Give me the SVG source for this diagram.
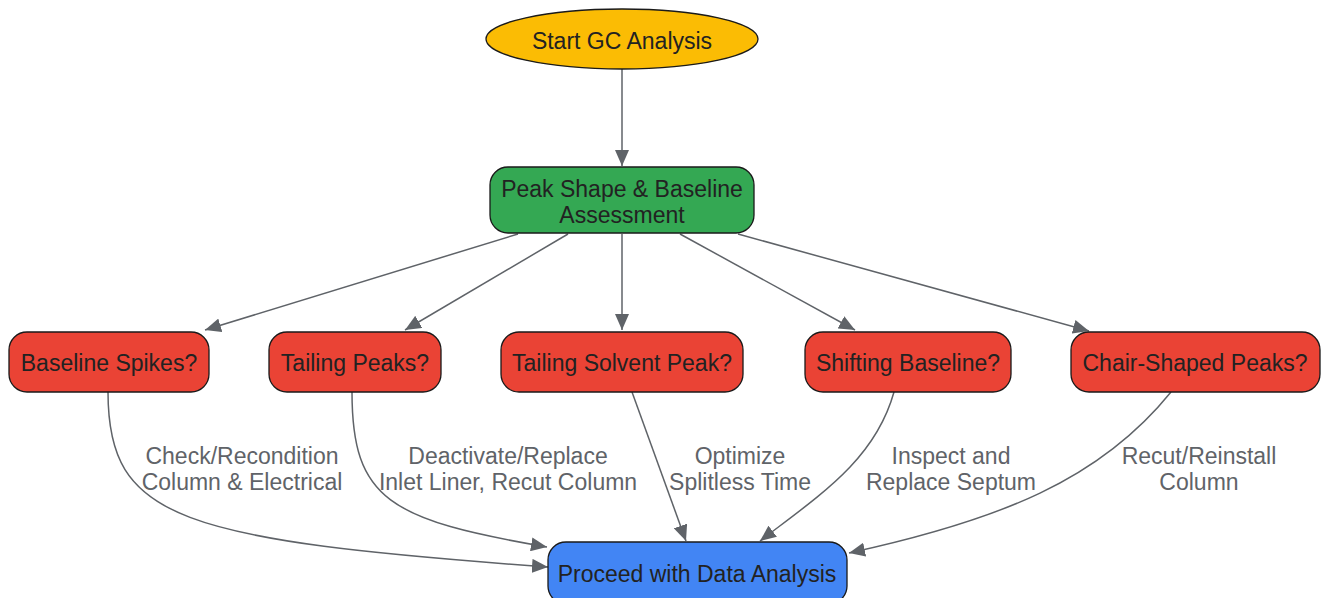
<svg xmlns="http://www.w3.org/2000/svg" width="1325" height="598" viewBox="0 0 1325 598">
<style>
.node{stroke:#1a1a1a;stroke-width:1.3}
.t{font-family:"Liberation Sans",Arial,sans-serif;font-size:23px;fill:#222;text-anchor:middle;dominant-baseline:central}
.lbl{font-family:"Liberation Sans",Arial,sans-serif;font-size:23px;fill:#606368;text-anchor:middle;dominant-baseline:central}
.e{fill:none;stroke:#5f6368;stroke-width:1.5}
</style>
<defs>
<marker id="ah" viewBox="0 0 16 14" refX="16" refY="7" markerWidth="16" markerHeight="14" markerUnits="userSpaceOnUse" orient="auto">
<path d="M0,0 L16,7 L0,14 z" fill="#5f6368"/>
</marker>
</defs>
<g id="connectors">
<path class="e" d="M622,69 L622,166" marker-end="url(#ah)"/>
<path class="e" d="M518,234 L205,330" marker-end="url(#ah)"/>
<path class="e" d="M568,234 L405,330" marker-end="url(#ah)"/>
<path class="e" d="M622,234 L622,330" marker-end="url(#ah)"/>
<path class="e" d="M680,234 L855,330" marker-end="url(#ah)"/>
<path class="e" d="M738,234 L1089,331" marker-end="url(#ah)"/>
<path class="e" d="M108,392 C108,520 180,540 548,567" marker-end="url(#ah)"/>
<path class="e" d="M352,392 C352,500 390,520 547,547" marker-end="url(#ah)"/>
<path class="e" d="M632,392 L686,541" marker-end="url(#ah)"/>
<path class="e" d="M894,392 C875,460 820,495 760,541" marker-end="url(#ah)"/>
<path class="e" d="M1171,392 C1100,480 1000,520 849,553" marker-end="url(#ah)"/>
</g>
<g id="edge-labels">
<text class="lbl" x="242" y="456">Check/Recondition</text>
<text class="lbl" x="242" y="482">Column &amp; Electrical</text>
<text class="lbl" x="508" y="456">Deactivate/Replace</text>
<text class="lbl" x="508" y="482">Inlet Liner, Recut Column</text>
<text class="lbl" x="740" y="456">Optimize</text>
<text class="lbl" x="740" y="482">Splitless Time</text>
<text class="lbl" x="951" y="456">Inspect and</text>
<text class="lbl" x="951" y="482">Replace Septum</text>
<text class="lbl" x="1199" y="456">Recut/Reinstall</text>
<text class="lbl" x="1199" y="482">Column</text>
</g>
<g id="start">
<ellipse class="node" cx="622" cy="39" rx="136" ry="30" fill="#fbbc04"/>
<text class="t" x="622" y="41">Start GC Analysis</text>
</g>
<g id="assess">
<rect class="node" x="490" y="167" width="264" height="66" rx="18" fill="#34a853"/>
<text class="t" x="622" y="189">Peak Shape &amp; Baseline</text>
<text class="t" x="622" y="215">Assessment</text>
</g>
<g id="spikes">
<rect class="node" x="9" y="332" width="200" height="60" rx="18" fill="#ea4335"/>
<text class="t" x="109" y="363">Baseline Spikes?</text>
</g>
<g id="tailing">
<rect class="node" x="269" y="332" width="172" height="60" rx="18" fill="#ea4335"/>
<text class="t" x="355" y="363">Tailing Peaks?</text>
</g>
<g id="solvent">
<rect class="node" x="501" y="332" width="242" height="60" rx="18" fill="#ea4335"/>
<text class="t" x="622" y="363">Tailing Solvent Peak?</text>
</g>
<g id="shifting">
<rect class="node" x="805" y="332" width="206" height="60" rx="18" fill="#ea4335"/>
<text class="t" x="908" y="363">Shifting Baseline?</text>
</g>
<g id="chair">
<rect class="node" x="1071" y="332" width="249" height="60" rx="18" fill="#ea4335"/>
<text class="t" x="1195" y="363">Chair-Shaped Peaks?</text>
</g>
<g id="proceed">
<rect class="node" x="548" y="542" width="299" height="62" rx="18" fill="#4285f4"/>
<text class="t" x="697" y="574">Proceed with Data Analysis</text>
</g>
</svg>
